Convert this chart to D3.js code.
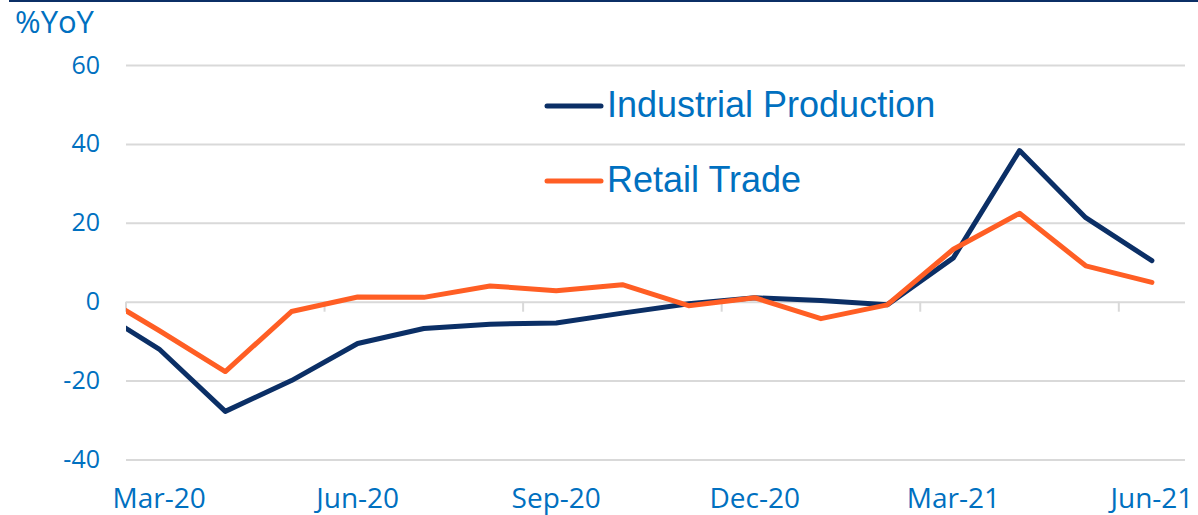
<!DOCTYPE html>
<html>
<head>
<meta charset="utf-8">
<script src="https://cdn.jsdelivr.net/npm/d3@7"></script>
<style>
    body { margin: 0; background: #fff; }
    text { fill: #0070C0; }
</style>
</head>
<body>
<div id="chart"></div>
<script>
const NAVY = "#0B2F66";
const ORANGE = "#FF5E24";
const GRID = "#D9D9D9";

// Feb-20 sits left of the axis minimum and gets clipped, like the source chart
const months = ["Feb-20", "Mar-20", "Apr-20", "May-20", "Jun-20", "Jul-20", "Aug-20", "Sep-20",
    "Oct-20", "Nov-20", "Dec-20", "Jan-21", "Feb-21", "Mar-21", "Apr-21", "May-21", "Jun-21"];
const industrial = [-1.5, -12, -27.8, -20, -10.6, -6.8, -5.7, -5.4, -2.9, -0.5, 1.0, 0.3, -0.8, 11.1, 38.3, 21.3, 10.4];
const retail = [2.7, -7.3, -17.7, -2.5, 1.2, 1.1, 4.0, 2.8, 4.3, -1.0, 1.0, -4.3, -0.8, 13.3, 22.4, 9.1, 4.9];
const xTickLabels = ["Mar-20", "Jun-20", "Sep-20", "Dec-20", "Mar-21", "Jun-21"];
const yTicks = [-40, -20, 0, 20, 40, 60];
const seriesNames = ["Industrial Production", "Retail Trade"];

class LineVis {
    constructor(_parentElement) {
        this.parentElement = _parentElement;
        this.initVis();
    }

    initVis() {
        let vis = this;
        vis.width = 1198;
        vis.height = 515;
        vis.plot = { left: 126, right: 1185, top: 65, bottom: 459.5 };

        vis.svg = d3.select(`#${vis.parentElement}`)
            .append("svg")
            .attr("width", vis.width)
            .attr("height", vis.height);

        // thin navy rule along the top
        vis.svg.append("rect")
            .attr("x", 9).attr("y", 0)
            .attr("width", vis.width - 9).attr("height", 2)
            .attr("fill", NAVY);

        vis.x = d3.scaleBand()
            .domain(months.slice(1))
            .range([vis.plot.left, vis.plot.right])
            .padding(0);

        vis.y = d3.scaleLinear()
            .domain([-40, 60])
            .range([vis.plot.bottom, vis.plot.top]);

        vis.updateVis();
    }

    xPos(m) {
        let vis = this;
        const bw = vis.x.bandwidth();
        if (vis.x.domain().includes(m)) return vis.x(m) + bw / 2;
        return vis.x.range()[0] - bw / 2;
    }

    updateVis() {
        let vis = this;

        // y gridlines + labels
        const yAxis = d3.axisLeft(vis.y)
            .tickValues(yTicks)
            .tickFormat((d) => String(d))
            .tickSize(-(vis.plot.right - vis.plot.left))
            .tickPadding(26);

        const gy = vis.svg.append("g")
            .attr("transform", `translate(${vis.plot.left},0)`)
            .call(yAxis);
        gy.select(".domain").remove();
        gy.selectAll("line").attr("stroke", GRID).attr("stroke-width", 2);
        gy.selectAll("text")
            .attr("font-family", "'Open Sans', sans-serif")
            .attr("font-size", 25)
            .attr("fill", "#0070C0");

        // small tick marks hanging off the zero line at quarter boundaries
        vis.svg.selectAll(".qtick")
            .data(xTickLabels)
            .enter()
            .append("line")
            .attr("class", "qtick")
            .attr("x1", (d) => vis.x(d))
            .attr("x2", (d) => vis.x(d))
            .attr("y1", vis.y(0))
            .attr("y2", vis.y(0) + 10)
            .attr("stroke", GRID)
            .attr("stroke-width", 2);

        // x labels
        const xAxis = d3.axisBottom(vis.x)
            .tickValues(xTickLabels)
            .tickSize(0)
            .tickPadding(0);
        const gx = vis.svg.append("g")
            .attr("transform", `translate(0,${vis.plot.bottom})`)
            .call(xAxis);
        gx.select(".domain").remove();
        gx.selectAll("text")
            .attr("font-family", "'Open Sans', sans-serif")
            .attr("font-size", 28)
            .attr("dy", null)
            .attr("y", 48)
            .attr("fill", "#0070C0");

        // y axis title
        vis.svg.append("text")
            .attr("x", 15)
            .attr("y", 33)
            .attr("font-family", "'Open Sans', sans-serif")
            .attr("font-size", 31)
            .text("%YoY");

        // lines
        vis.svg.append("clipPath")
            .attr("id", "plot-clip")
            .append("rect")
            .attr("x", vis.plot.left)
            .attr("y", 0)
            .attr("width", vis.plot.right - vis.plot.left)
            .attr("height", vis.height);

        const line = d3.line()
            .x((d, i) => vis.xPos(months[i]))
            .y((d) => vis.y(d));

        const series = [
            { name: seriesNames[0], values: industrial, color: NAVY },
            { name: seriesNames[1], values: retail, color: ORANGE },
        ];

        vis.svg.append("g")
            .attr("clip-path", "url(#plot-clip)")
            .selectAll(".series")
            .data(series)
            .enter()
            .append("path")
            .attr("class", "series")
            .attr("d", (d) => line(d.values))
            .attr("fill", "none")
            .attr("stroke", (d) => d.color)
            .attr("stroke-width", 5)
            .attr("stroke-linejoin", "round")
            .attr("stroke-linecap", "round");

        // legend
        const legend = vis.svg.selectAll(".legend")
            .data(series)
            .enter()
            .append("g")
            .attr("class", "legend")
            .attr("transform", (d, i) => `translate(547,${106 + i * 75})`);

        legend.append("line")
            .attr("x1", 0).attr("x2", 54)
            .attr("y1", 0).attr("y2", 0)
            .attr("stroke", (d) => d.color)
            .attr("stroke-width", 5)
            .attr("stroke-linecap", "round");

        legend.append("text")
            .attr("x", 60)
            .attr("y", 11)
            .attr("font-family", "'Liberation Sans', Arial, sans-serif")
            .attr("font-size", 36)
            .text((d) => d.name);
    }
}

new LineVis("chart");
</script>
</body>
</html>
